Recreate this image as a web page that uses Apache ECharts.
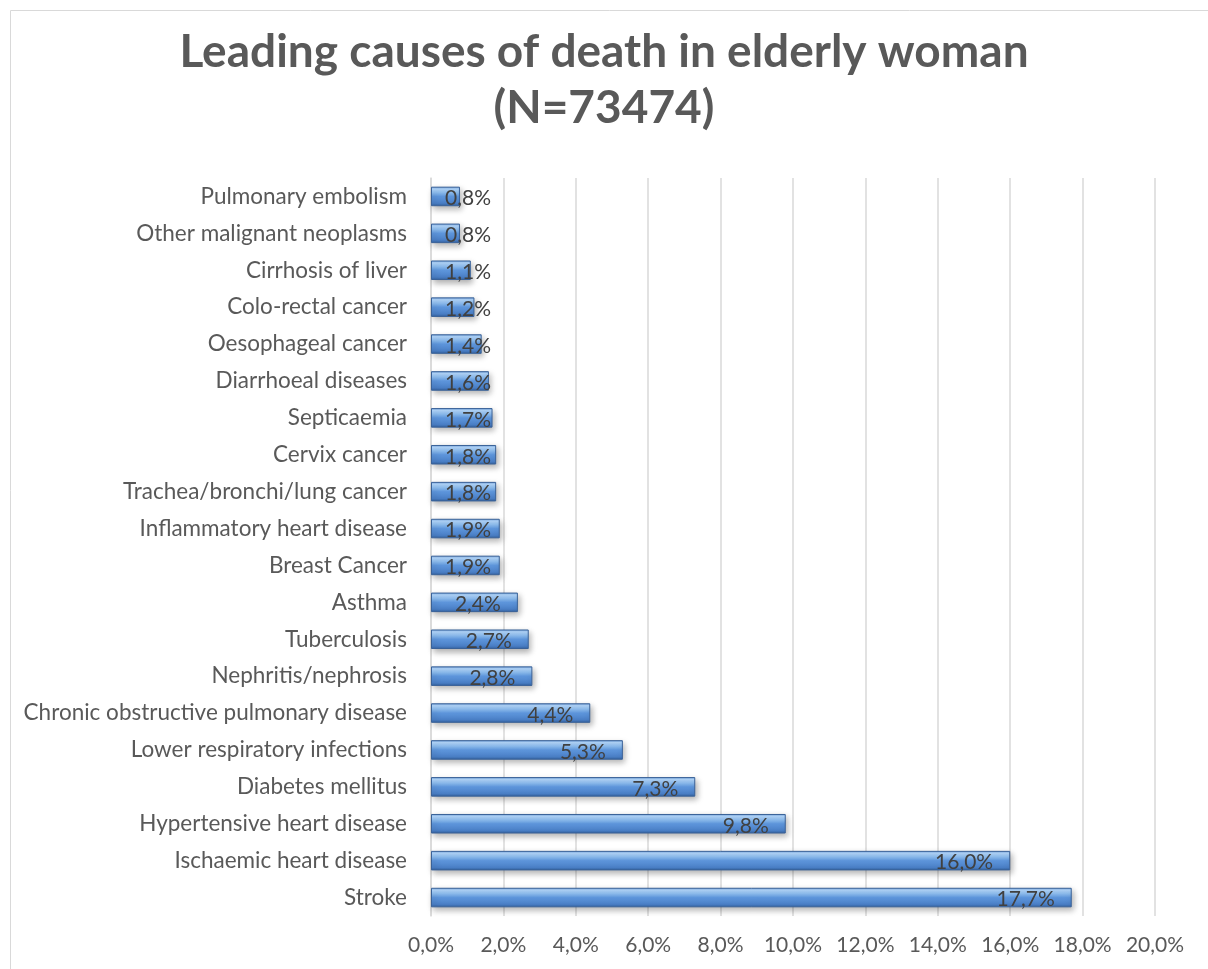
<!DOCTYPE html>
<html>
<head>
<meta charset="utf-8">
<script src="https://cdn.jsdelivr.net/npm/echarts@6/dist/echarts.min.js"></script>
<style>
  html, body { margin: 0; padding: 0; background: #fff; }
  #chart { width: 1208px; height: 969px; }
</style>
</head>
<body>
<div id="chart"></div>
<script>
var categories = [
  'Stroke', 'Ischaemic heart disease', 'Hypertensive heart disease', 'Diabetes mellitus',
  'Lower respiratory infections', 'Chronic obstructive pulmonary disease', 'Nephritis/nephrosis',
  'Tuberculosis', 'Asthma', 'Breast Cancer', 'Inflammatory heart disease',
  'Trachea/bronchi/lung cancer', 'Cervix cancer', 'Septicaemia', 'Diarrhoeal diseases',
  'Oesophageal cancer', 'Colo-rectal cancer', 'Cirrhosis of liver',
  'Other malignant neoplasms', 'Pulmonary embolism'
];
var values = [17.7, 16.0, 9.8, 7.3, 5.3, 4.4, 2.8, 2.7, 2.4, 1.9, 1.9, 1.8, 1.8, 1.7, 1.6, 1.4, 1.2, 1.1, 0.8, 0.8];

var fmt = function (v) { return v.toFixed(1).replace('.', ',') + '%'; };

// short bars: the label can't fit inside, so it sticks to the bar start (like Excel)
var barData = values.map(function (v) {
  var short = v < 2.2;
  return {
    value: v,
    label: short ? { position: 'insideLeft', offset: [9, 2] } : { position: 'insideRight', offset: [-12, 2] }
  };
});

var chartDom = document.getElementById('chart');
var myChart = echarts.init(chartDom);
var option;

option = {
  animation: false,
  textStyle: { fontFamily: 'Lato' },
  title: {
    text: 'Leading causes of death in elderly woman\n(N=73474)',
    left: 'center',
    top: 19,
    textStyle: { fontSize: 46, fontWeight: 'bold', color: '#595959', lineHeight: 56, fontFamily: 'Lato' }
  },
  graphic: [{
    type: 'rect',
    shape: { x: 10.5, y: 10.5, width: 1220, height: 1000 },
    style: { fill: 'none', stroke: '#d9d9d9', lineWidth: 1 },
    silent: true
  }],
  grid: { left: 431, right: 53, top: 178, bottom: 53, containLabel: false },
  xAxis: {
    type: 'value',
    min: 0,
    max: 20,
    interval: 2,
    axisLine: { show: false },
    axisTick: { show: false },
    axisLabel: { formatter: fmt, fontSize: 21, color: '#595959', margin: 19 },
    splitLine: { lineStyle: { color: '#d9d9d9', width: 1.5 } }
  },
  yAxis: {
    type: 'category',
    data: categories,
    axisLine: { lineStyle: { color: '#d9d9d9', width: 1.5 } },
    axisTick: { show: false },
    axisLabel: { fontSize: 22.5, color: '#595959', margin: 24 }
  },
  series: [{
    type: 'bar',
    data: barData,
    barCategoryGap: '47%',
    itemStyle: {
      color: new echarts.graphic.LinearGradient(0, 0, 0, 1, [
        { offset: 0, color: '#6d9fdc' },
        { offset: 0.12, color: '#b2d6fb' },
        { offset: 0.3, color: '#8fbff1' },
        { offset: 0.5, color: '#5e96dc' },
        { offset: 0.85, color: '#4a7fc6' },
        { offset: 1, color: '#32609e' }
      ]),
      borderColor: '#3a6298',
      borderWidth: 1,
      shadowColor: 'rgba(0,0,0,0.3)',
      shadowBlur: 6,
      shadowOffsetX: 2,
      shadowOffsetY: 3
    },
    label: {
      show: true,
      formatter: function (p) { return fmt(p.value); },
      fontSize: 21,
      color: '#404040'
    }
  }]
};

option && myChart.setOption(option);
</script>
</body>
</html>
